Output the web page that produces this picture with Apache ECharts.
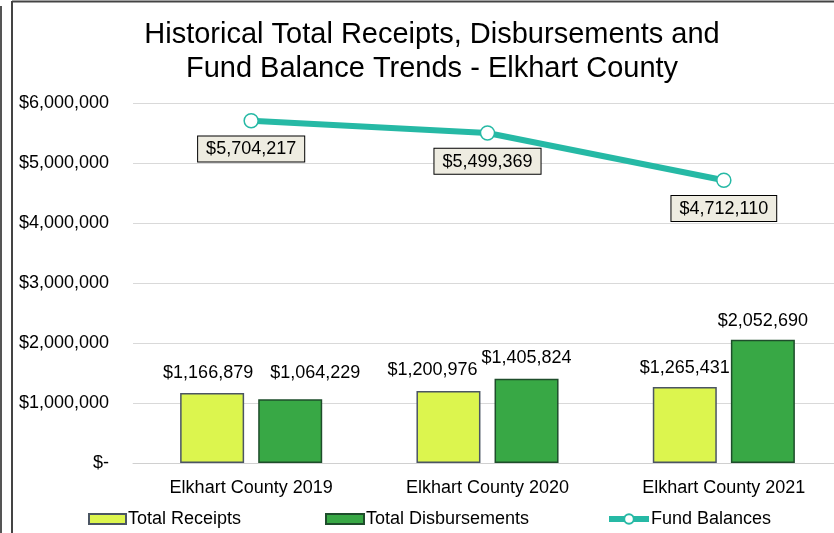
<!DOCTYPE html>
<html>
<head>
<meta charset="utf-8">
<script src="https://cdn.jsdelivr.net/npm/echarts@6/dist/echarts.min.js"></script>
<style>
  html, body { margin: 0; padding: 0; background: #fff; }
  #chart { width: 834px; height: 533px; }
</style>
</head>
<body>
<div id="chart"></div>
<script>
var categories = ['Elkhart County 2019', 'Elkhart County 2020', 'Elkhart County 2021'];
var receipts = [1166879, 1200976, 1265431];
var disbursements = [1064229, 1405824, 2052690];
var fundBalances = [5704217, 5499369, 4712110];
var yTicks = [0, 1000000, 2000000, 3000000, 4000000, 5000000, 6000000];

// hand-moved data labels in the original (pixel nudges, like Excel)
var receiptLabelNudge = [[-4, -1], [-16, -2], [0, 0]];
var disbLabelNudge = [[25, -7], [0, -2], [0, 0]];

var chart = echarts.init(document.getElementById('chart'));
var font = 'Liberation Sans, Arial, sans-serif';

function money(v) {
  if (v === 0) return '$-';
  return '$' + Number(v).toLocaleString('en-US');
}

function withNudge(values, nudges) {
  return values.map(function (v, i) {
    return { value: v, label: { offset: nudges[i] } };
  });
}

var barLabel = {
  show: true, position: 'top', distance: 10, fontSize: 18, color: '#000', fontFamily: font,
  formatter: function (p) { return money(p.value); }
};
var legendText = { fontSize: 18, color: '#000', fontFamily: font, padding: [0, 0, 0, -3] };

var option = {
  backgroundColor: '#fff',
  animation: false,
  textStyle: { fontFamily: font, color: '#000' },
  title: {
    text: 'Historical Total Receipts, Disbursements and\nFund Balance Trends - Elkhart County',
    left: 427,
    textAlign: 'center',
    top: 13,
    textStyle: { fontSize: 29, fontWeight: 'normal', color: '#000', lineHeight: 34, fontFamily: font }
  },
  grid: { left: 133, top: 103, width: 709, height: 360, outerBoundsMode: 'none' },
  xAxis: {
    type: 'category',
    data: categories,
    axisLine: { lineStyle: { color: '#d0d0d0', width: 1 } },
    axisTick: { show: false },
    axisLabel: { fontSize: 18, color: '#000', margin: 16, fontFamily: font }
  },
  yAxis: {
    type: 'value',
    min: yTicks[0],
    max: yTicks[yTicks.length - 1],
    interval: 1000000,
    axisLine: { show: false },
    axisTick: { show: false },
    splitLine: { lineStyle: { color: '#d9d9d9', width: 1 } },
    axisLabel: { fontSize: 18, color: '#000', margin: 24, fontFamily: font, formatter: function (v) { return money(v); } }
  },
  legend: [
    {
      data: ['Total Receipts'], left: 88, top: 510, padding: 0, itemWidth: 37, itemHeight: 10, itemGap: 0,
      icon: 'rect', textStyle: legendText
    },
    {
      data: ['Total Disbursements'], left: 325, top: 510, padding: 0, itemWidth: 38, itemHeight: 10, itemGap: 0,
      icon: 'rect', textStyle: legendText
    },
    {
      data: ['Fund Balances'], left: 606, top: 510, padding: 0, itemWidth: 40, itemHeight: 12, itemGap: 0,
      lineStyle: { width: 6 }, textStyle: legendText
    }
  ],
  series: [
    {
      name: 'Total Receipts',
      type: 'bar',
      data: withNudge(receipts, receiptLabelNudge),
      barWidth: 64,
      barGap: '22%',
      itemStyle: { color: '#dcf54e', borderColor: '#4b5563', borderWidth: 1.5 },
      label: barLabel
    },
    {
      name: 'Total Disbursements',
      type: 'bar',
      data: withNudge(disbursements, disbLabelNudge),
      barWidth: 64,
      itemStyle: { color: '#38a845', borderColor: '#1e4d2b', borderWidth: 1.5 },
      label: barLabel
    },
    {
      name: 'Fund Balances',
      type: 'line',
      data: fundBalances,
      z: 5,
      symbol: 'circle',
      symbolSize: 14,
      lineStyle: { color: '#26b9a5', width: 6 },
      itemStyle: { color: '#fff', borderColor: '#26b9a5', borderWidth: 1.5 },
      label: {
        show: true, position: 'bottom', distance: 8, fontSize: 18, color: '#000', fontFamily: font,
        backgroundColor: '#eeece1', borderColor: '#000', borderWidth: 1, padding: [4, 8, 3, 8],
        formatter: function (p) { return money(p.value); }
      }
    }
  ],
  graphic: [
    { type: 'line', shape: { x1: 12, y1: 1.5, x2: 834, y2: 1.5 }, style: { stroke: '#444', lineWidth: 2 } },
    { type: 'line', shape: { x1: 12, y1: 1, x2: 12, y2: 533 }, style: { stroke: '#444', lineWidth: 2 } },
    { type: 'line', shape: { x1: 1, y1: 6, x2: 1, y2: 533 }, style: { stroke: '#555', lineWidth: 2 } }
  ]
};

chart.setOption(option);
</script>
</body>
</html>
